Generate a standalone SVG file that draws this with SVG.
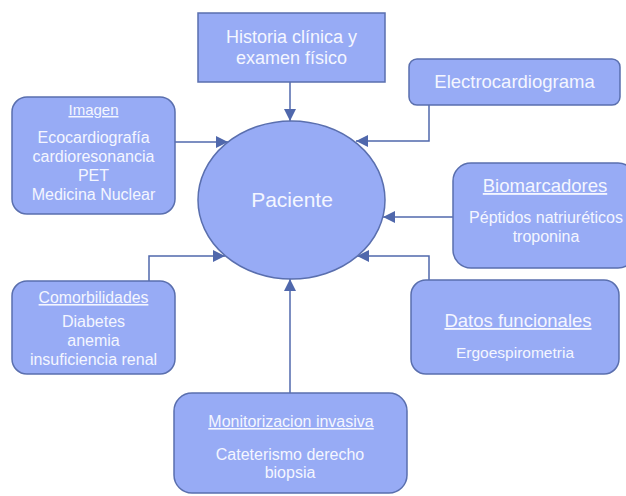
<svg xmlns="http://www.w3.org/2000/svg" width="626" height="496" viewBox="0 0 626 496">
<defs>
<marker id="ah" viewBox="0 0 12 12" refX="12" refY="6" markerWidth="12" markerHeight="12" markerUnits="userSpaceOnUse" orient="auto">
<path d="M0,0 L12,6 L0,12 Z" fill="#5068ac"/>
</marker>
<style>
.box{fill:#97abf5;stroke:#5a6fae;stroke-width:1.5}
.t{font-family:"Liberation Sans",Arial,sans-serif;fill:#f4f6ff;text-anchor:middle}
.u{text-decoration:underline}
.c{fill:none;stroke:#5068ac;stroke-width:1.5}
</style>
</defs>
<rect width="626" height="496" fill="#ffffff"/>
<g id="connectors">
<path class="c" d="M290,82 V121" marker-end="url(#ah)"/>
<path class="c" d="M175,142 H228" marker-end="url(#ah)"/>
<path class="c" d="M429,105 V141 H356" marker-end="url(#ah)"/>
<path class="c" d="M453,217 H383" marker-end="url(#ah)"/>
<path class="c" d="M149,281 V256 H225" marker-end="url(#ah)"/>
<path class="c" d="M429,280 V256 H357" marker-end="url(#ah)"/>
<path class="c" d="M290,393 V279" marker-end="url(#ah)"/>
</g>
<g id="paciente">
<ellipse class="box" cx="291.5" cy="200" rx="93.5" ry="79"/>
<text class="t" x="292" y="207" font-size="21">Paciente</text>
</g>
<g id="historia">
<rect class="box" x="198" y="13" width="187" height="69"/>
<text class="t" x="291.5" y="43" font-size="18">Historia clínica y</text>
<text class="t" x="291.5" y="64" font-size="18">examen físico</text>
</g>
<g id="electro">
<rect class="box" x="409" y="59" width="211" height="46" rx="8"/>
<text class="t" x="514.5" y="88" font-size="18.5">Electrocardiograma</text>
</g>
<g id="imagen">
<rect class="box" x="12" y="97" width="163" height="117" rx="15"/>
<text class="t u" x="93.5" y="115" font-size="15">Imagen</text>
<text class="t" x="93.5" y="143" font-size="16">Ecocardiografía</text>
<text class="t" x="93.5" y="162" font-size="16">cardioresonancia</text>
<text class="t" x="93.5" y="181" font-size="16">PET</text>
<text class="t" x="93.5" y="200" font-size="16">Medicina Nuclear</text>
</g>
<g id="biomarcadores">
<rect class="box" x="453" y="163" width="183" height="105" rx="18"/>
<text class="t u" x="545" y="192" font-size="18.5">Biomarcadores</text>
<text class="t" x="546" y="223" font-size="16">Péptidos natriuréticos</text>
<text class="t" x="546" y="242" font-size="16">troponina</text>
</g>
<g id="comorbilidades">
<rect class="box" x="12" y="281" width="163" height="93" rx="15"/>
<text class="t u" x="93.5" y="303" font-size="15.8">Comorbilidades</text>
<text class="t" x="93.5" y="327" font-size="16">Diabetes</text>
<text class="t" x="93.5" y="346" font-size="16">anemia</text>
<text class="t" x="93.5" y="365" font-size="16">insuficiencia renal</text>
</g>
<g id="datos">
<rect class="box" x="411" y="280" width="208" height="94" rx="15"/>
<text class="t u" x="518" y="327" font-size="18.5">Datos funcionales</text>
<text class="t" x="515" y="358" font-size="15.5">Ergoespirometria</text>
</g>
<g id="monitorizacion">
<rect class="box" x="174" y="393" width="233" height="100" rx="18"/>
<text class="t u" x="291" y="427" font-size="16">Monitorizacion invasiva</text>
<text class="t" x="290" y="460" font-size="16">Cateterismo derecho</text>
<text class="t" x="290" y="478" font-size="16">biopsia</text>
</g>
</svg>
